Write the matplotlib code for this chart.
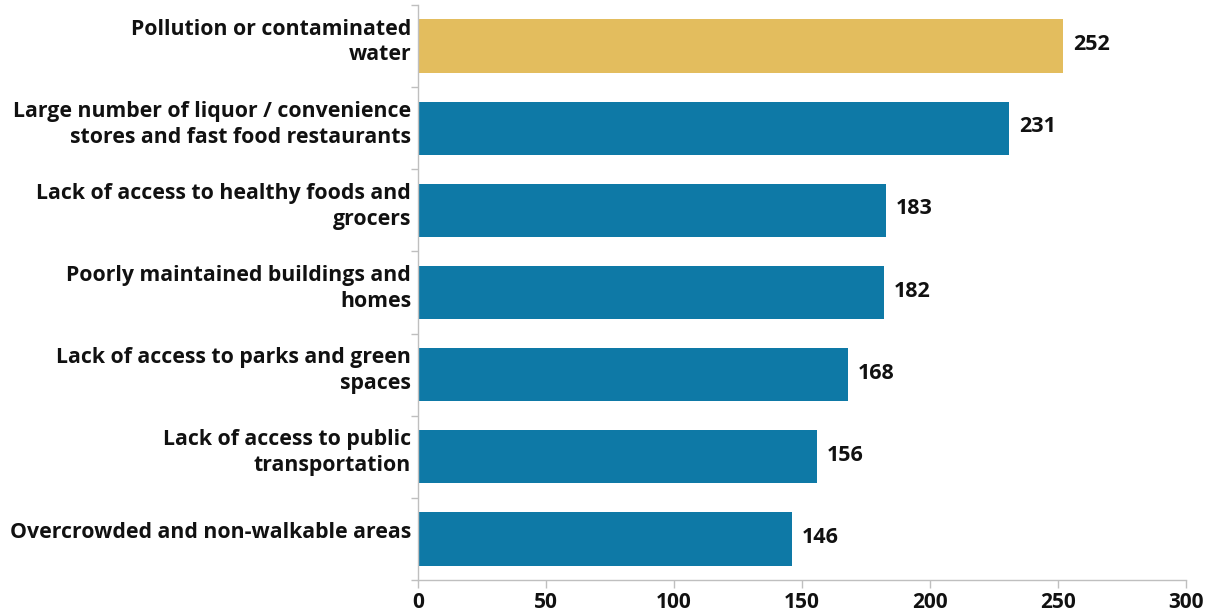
import matplotlib
matplotlib.use("Agg")
import matplotlib.pyplot as plt
import matplotlib.transforms as mtransforms

categories = [
    "Pollution or contaminated\nwater",
    "Large number of liquor / convenience\nstores and fast food restaurants",
    "Lack of access to healthy foods and\ngrocers",
    "Poorly maintained buildings and\nhomes",
    "Lack of access to parks and green\nspaces",
    "Lack of access to public\ntransportation",
    "Overcrowded and non-walkable areas",
]
values = [252, 231, 183, 182, 168, 156, 146]
bar_colors = ["#E3BD5E"] + ["#0E79A6"] * 6
xticks = [0, 50, 100, 150, 200, 250, 300]

plt.rcParams['font.family'] = ['Open Sans', 'DejaVu Sans']

fig = plt.figure(figsize=(12.14, 6.16), dpi=100)
ax = fig.add_axes([418/1214, 1-580/616, (1186-418)/1214, (580-5)/616])

n = len(categories)
pos = list(range(n))
ax.barh(pos, values, height=0.65, color=bar_colors, zorder=2)
ax.set_ylim(n-0.5, -0.5)
ax.set_xlim(0, 300)

for p, v in zip(pos, values):
    ax.annotate(str(v), (v, p), xytext=(7, 1), textcoords="offset points",
                ha="left", va="center", fontsize=15.5, fontweight="bold", color="#111111")

ax.set_yticks(pos)
ax.set_yticklabels(categories, fontsize=15.3, fontweight="bold", color="#111111",
                   linespacing=1.3)
ax.tick_params(axis="y", length=0, pad=5)
shift = mtransforms.ScaledTranslation(0, 9/100, fig.dpi_scale_trans)
for lab in ax.get_yticklabels():
    lab.set_transform(lab.get_transform() + shift)
# boundary ticks on y axis
ax.set_yticks([i - 0.5 for i in range(n + 1)], minor=True)
ax.tick_params(axis="y", which="minor", length=5, color="#BFBFBF", width=1)

ax.set_xticks(xticks)
ax.set_xticklabels([str(t) for t in xticks], fontsize=15, fontweight="bold", color="#111111")
ax.tick_params(axis="x", length=6, color="#BFBFBF", width=1, pad=3)

for s in ["top", "right"]:
    ax.spines[s].set_visible(False)
for s in ["left", "bottom"]:
    ax.spines[s].set_color("#BFBFBF")
    ax.spines[s].set_linewidth(1)

fig.savefig("out.png", dpi=100)
